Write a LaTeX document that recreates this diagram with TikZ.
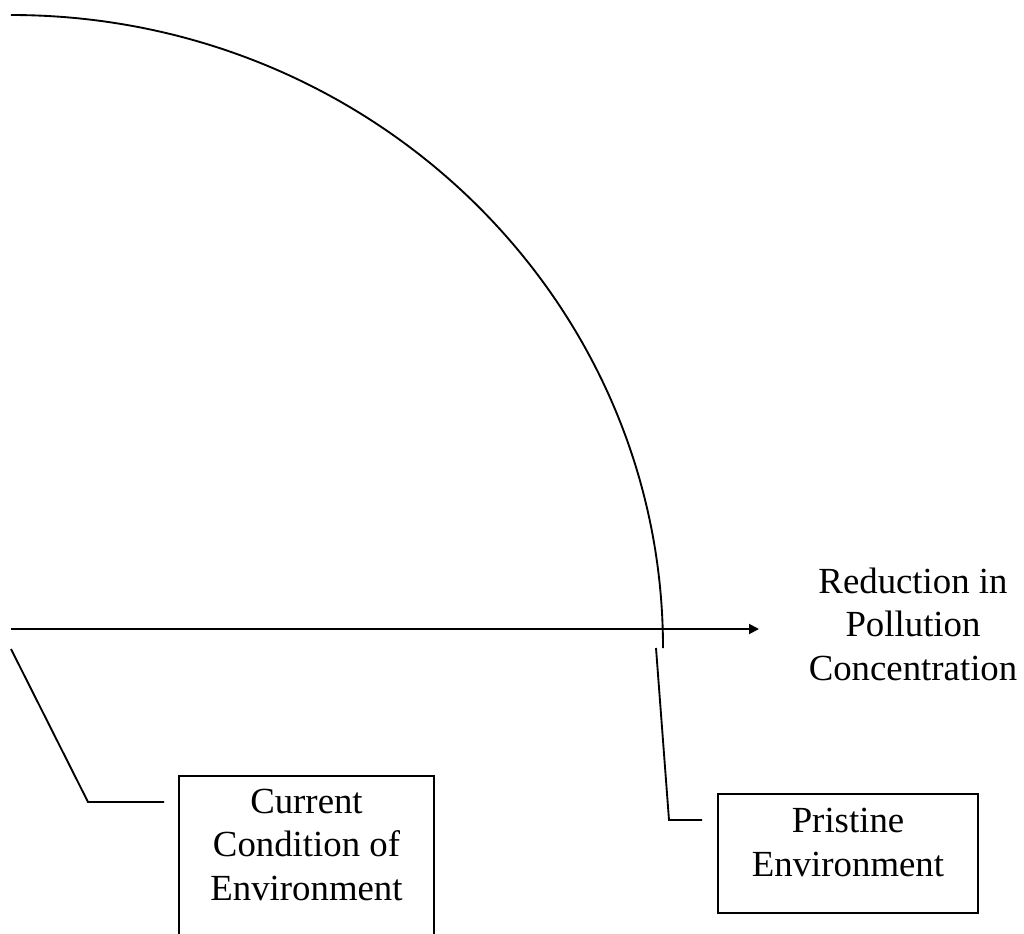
\documentclass[tikz,border=0pt]{standalone}
\usepackage{fontspec}
\setmainfont{Liberation Serif}
\usetikzlibrary{arrows.meta}
\begin{document}
\begin{tikzpicture}[x=0.75pt,y=0.75pt,
  ln/.style={line width=1.4pt,black},
  boxnode/.style={draw=black,line width=1.4pt,align=center,inner xsep=0pt,
    font=\fontsize{27.6}{32.6}\selectfont},
  lbl/.style={align=center,font=\fontsize{27.6}{32.6}\selectfont,inner sep=0pt}]
\useasboundingbox (0,0) rectangle (1024,-933);
\clip (0,0) rectangle (1024,-933);
% curve
\coordinate (top) at (11,-15);
\draw[ln] (top) arc[start angle=90,end angle=0,x radius=489pt,y radius=474.75pt] coordinate (bot);
% axis arrow
\coordinate (o) at (11,-629);
\coordinate (e) at (759,-629);
\draw[ln,-{Triangle[length=7.5pt,width=7.5pt]}] (o) -- (e);
% label
\node[lbl,anchor=base] (lab) at (913,-680) {Reduction in\\Pollution\\Concentration};
% boxes
\node[boxnode,anchor=north,minimum width=191.25pt,inner ysep=9.75pt,text depth=35.25pt] (cur) at (306.5,-775) {Current\\Condition of\\Environment};
\node[boxnode,minimum width=195pt,minimum height=89.25pt,text depth=16.5pt] (pri) at (848,-853.5) {Pristine\\Environment};
% leaders
\coordinate (cA) at (11,-649);
\coordinate (cB) at (88,-802);
\coordinate (cC) at (164,-802);
\draw[ln] (cA) -- (cB) -- (cC);
\coordinate (pA) at (656,-648);
\coordinate (pB) at (669,-820);
\coordinate (pC) at (702,-820);
\draw[ln] (pA) -- (pB) -- (pC);
\end{tikzpicture}
\end{document}
